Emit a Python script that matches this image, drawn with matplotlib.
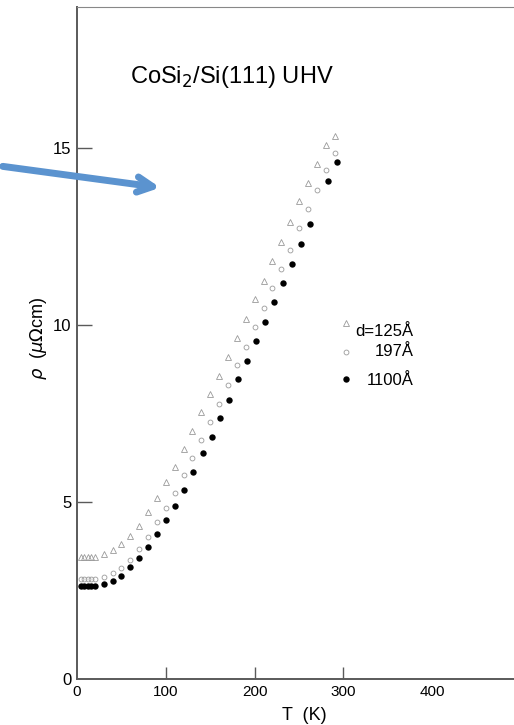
import matplotlib
matplotlib.use("Agg")
import matplotlib.pyplot as plt
from matplotlib.patches import FancyArrowPatch

plt.rcParams["font.family"] = ["Liberation Sans", "DejaVu Sans"]

AXIS = "#5a5a5a"
ARROW = "#5b93cf"

# temperatures (K)
T_low = [4.2, 8, 12, 16, 20]
T_main = [30, 40, 50, 60, 70, 80, 90, 100, 110, 120, 130, 140, 150, 160,
          170, 180, 190, 200, 210, 220, 230, 240, 250, 260, 270, 280, 290]
T_thick = [30, 40, 50, 60, 70, 80, 90, 100, 110, 121, 131, 141.5, 151.5, 161,
           171, 181.5, 191, 201.5, 211.5, 221.5, 231.5, 241.5, 252, 262.5, 282.5, 293]

# resistivity (micro-ohm cm)
rho_125 = [3.45] * 5 + [3.54, 3.63, 3.82, 4.05, 4.33, 4.71, 5.12, 5.55, 6.00, 6.51,
                        7.01, 7.54, 8.06, 8.57, 9.10, 9.64, 10.17, 10.72, 11.25,
                        11.80, 12.35, 12.92, 13.49, 14.02, 14.55, 15.09, 15.33]
rho_197 = [2.82] * 5 + [2.88, 2.98, 3.14, 3.37, 3.66, 4.01, 4.43, 4.82, 5.26, 5.75,
                        6.23, 6.74, 7.26, 7.78, 8.31, 8.86, 9.39, 9.94, 10.48,
                        11.04, 11.59, 12.13, 12.75, 13.27, 13.82, 14.37, 14.87]
rho_1100 = [2.63] * 5 + [2.68, 2.77, 2.92, 3.15, 3.42, 3.73, 4.10, 4.48, 4.89, 5.35,
                         5.84, 6.38, 6.84, 7.37, 7.88, 8.47, 8.99, 9.54, 10.08,
                         10.64, 11.18, 11.73, 12.28, 12.85, 14.06, 14.60]

labels = ["d=125Å", "197Å", "1100Å"]
x_ticks = [0, 100, 200, 300, 400]
y_ticks = [0, 5, 10, 15]

styles = [
    dict(marker="^", ms=3.8, mfc="none", mec="#9a9a9a", mew=0.6, ls="none"),
    dict(marker="o", ms=3.5, mfc="none", mec="#9a9a9a", mew=0.6, ls="none"),
    dict(marker="o", ms=4.6, mfc="black", mec="black", mew=0, ls="none"),
]

fig = plt.figure(figsize=(5.14, 7.25), dpi=100)
ax = fig.add_axes([77 / 514, 46 / 725, 437 / 514, 672 / 725])

ax.plot(T_low + T_main, rho_125, **styles[0])
ax.plot(T_low + T_main, rho_197, **styles[1])
ax.plot(T_low + T_thick, rho_1100, **styles[2])

ax.set_xlim(0, 492)
ax.set_ylim(0, 18.98)
ax.set_xticks(x_ticks)
ax.set_yticks(y_ticks)
ax.tick_params(axis="x", direction="in", length=9, width=1, color=AXIS,
               labelsize=11, pad=4)
ax.tick_params(axis="y", direction="in", length=11, width=1, color=AXIS,
               labelsize=12, pad=4)
ax.xaxis.get_major_ticks()[-1].tick1line.set_visible(False)
ax.xaxis.get_major_ticks()[0].tick1line.set_visible(False)
ax.yaxis.get_major_ticks()[0].tick1line.set_visible(False)

ax.spines["right"].set_visible(False)
for side in ["left", "bottom"]:
    ax.spines[side].set_color(AXIS)
    ax.spines[side].set_linewidth(1.4)
ax.spines["top"].set_color("#888888")
ax.spines["top"].set_linewidth(0.8)

ax.set_xlabel("T  (K)", fontsize=13)
ax.xaxis.set_label_coords(0.52, -0.042)
ax.set_ylabel(r"$\rho$  ($\mu\Omega$cm)", fontsize=13)
ax.yaxis.set_label_coords(-0.064, 0.507)

ax.text(59.5, 16.84, r"CoSi$_2$/Si(111) UHV", fontsize=17, va="baseline")

# legend drawn by hand: markers in one column, labels right aligned
leg_y = [0.530, 0.487, 0.446]
txt_y = [0.510, 0.481, 0.437]
for st, lab, my, ty in zip(styles, labels, leg_y, txt_y):
    ax.plot([0.615], [my], transform=ax.transAxes, clip_on=False, **st)
    ax.text(0.770, ty, lab, transform=ax.transAxes, ha="right", va="baseline",
            fontsize=12)

# blue call-out arrow overlaid on the scan
arrow = FancyArrowPatch((0, 725 - 166), (163, 725 - 188), transform=None,
                        arrowstyle="->,head_length=11,head_width=5.5",
                        color=ARROW, lw=5, capstyle="round", joinstyle="round",
                        zorder=10)
fig.patches.append(arrow)

fig.savefig("out.png", dpi=100)
